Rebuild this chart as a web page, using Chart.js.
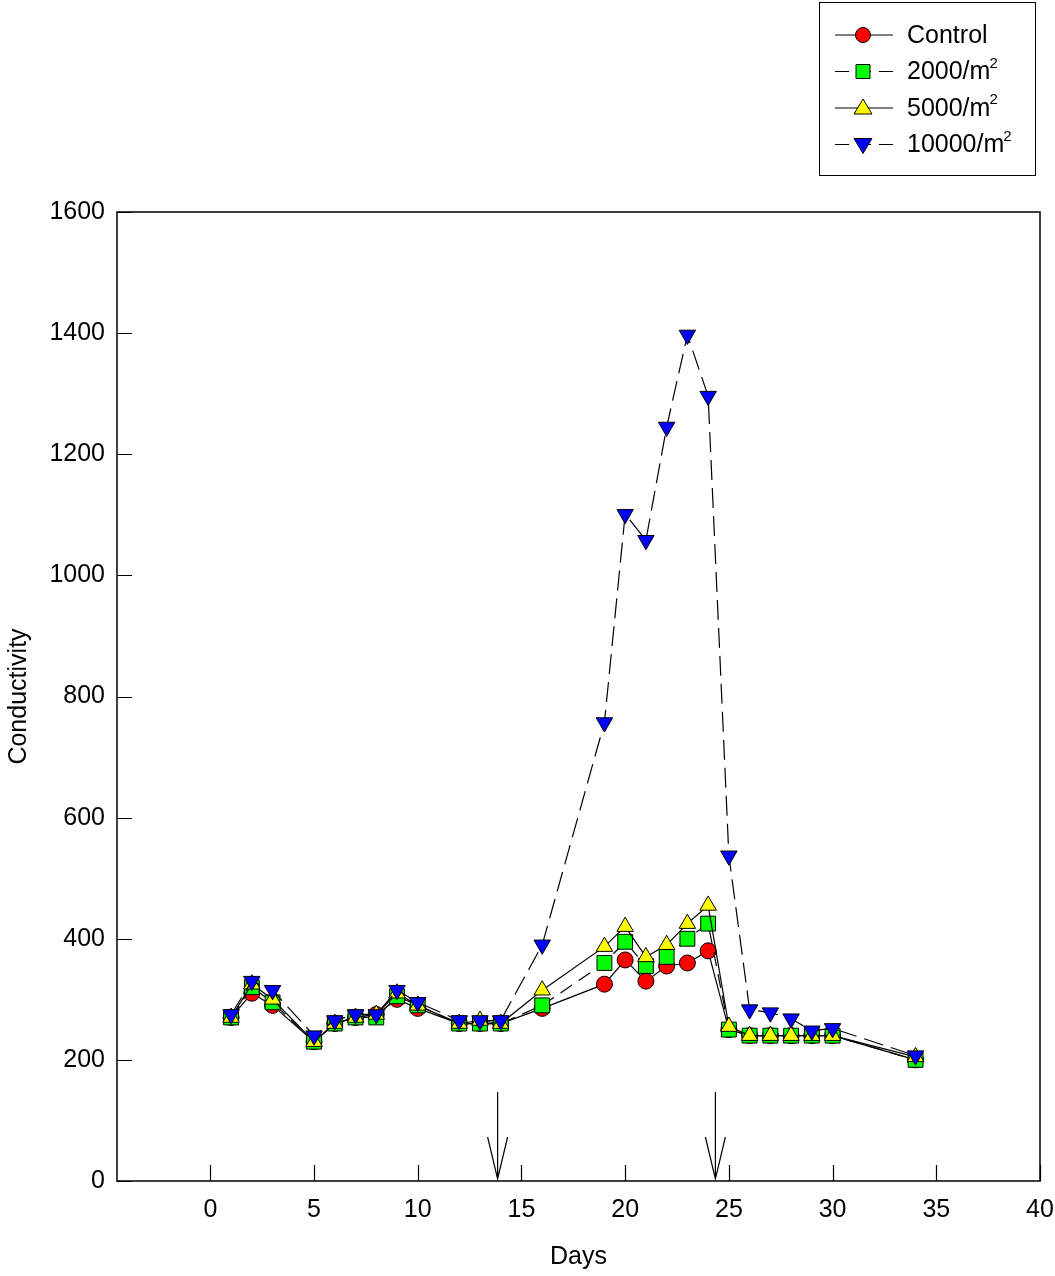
<!DOCTYPE html>
<html>
<head>
<meta charset="utf-8">
<script src="https://cdn.jsdelivr.net/npm/chart.js@4/dist/chart.umd.min.js"></script>
<style>
  html, body { margin: 0; padding: 0; background: #fff; overflow: hidden; }
  #wrap { width: 1055px; height: 1276px; position: relative; }
  canvas { display: block; }
</style>
</head>
<body>
<div id="wrap"><canvas id="myChart"></canvas></div>
<script>
const days = [1, 2, 3, 5, 6, 7, 8, 9, 10, 12, 13, 14, 16, 19, 20, 21, 22, 23, 24, 25, 26, 27, 28, 29, 30, 34];
const control = [270, 310, 290, 230, 260, 270, 275, 300, 285, 260, 260, 260, 285, 325, 365, 330, 355, 360, 380, 250, 240, 240, 240, 240, 240, 200];
const d2000 = [270, 320, 295, 230, 260, 270, 270, 305, 290, 260, 260, 260, 290, 360, 395, 355, 370, 400, 425, 250, 240, 240, 240, 240, 240, 200];
const d5000 = [270, 325, 300, 230, 260, 270, 275, 310, 290, 260, 265, 260, 315, 387, 420, 370, 390, 425, 455, 255, 240, 240, 240, 240, 240, 205];
const d10000 = [275, 330, 315, 240, 265, 275, 275, 315, 295, 265, 265, 265, 390, 757, 1101, 1058, 1245, 1397, 1296, 537, 283, 278, 268, 248, 252, 207];
const xTicks = [0, 5, 10, 15, 20, 25, 30, 35, 40];
const yTicks = [0, 200, 400, 600, 800, 1000, 1200, 1400, 1600];
const arrowDays = [13.85, 24.35];
const arrowTop = 147;

const FONT = '"Liberation Sans", Arial, sans-serif';
const ctx = document.getElementById('myChart').getContext('2d');

function toPoints(ys) {
    return days.map((d, i) => ({ x: d, y: ys[i] }));
}

const series = [
    { label: 'Control', sup: '', data: control, color: '#ff0000', style: 'circle', dash: [], rot: 0, r: 8 },
    { label: '2000/m', sup: '2', data: d2000, color: '#00ff00', style: 'rect', dash: [14, 8], rot: 0, r: 10.5 },
    { label: '5000/m', sup: '2', data: d5000, color: '#ffff00', style: 'triangle', dash: [], rot: 0, r: 9.5 },
    { label: '10000/m', sup: '2', data: d10000, color: '#0000ff', style: 'triangle', dash: [20, 8], rot: 180, r: 9.5 }
];

// frame, inside ticks, arrows, legend box
const decor = {
    id: 'decor',
    beforeDatasetsDraw(chart) {
        const { ctx, chartArea: a, scales: { x, y } } = chart;
        ctx.save();
        ctx.strokeStyle = '#000';
        ctx.lineWidth = 1.5;
        ctx.strokeRect(a.left, a.top, a.right - a.left, a.bottom - a.top);
        ctx.beginPath();
        xTicks.forEach(v => {
            const px = Math.round(x.getPixelForValue(v)) + 0.5;
            ctx.moveTo(px, a.bottom);
            ctx.lineTo(px, a.bottom - 16);
        });
        yTicks.forEach(v => {
            const py = Math.round(y.getPixelForValue(v)) + 0.5;
            ctx.moveTo(a.left, py);
            ctx.lineTo(a.left + 15, py);
        });
        ctx.lineWidth = 1.2;
        ctx.stroke();
        // arrows
        arrowDays.forEach(d => {
            const px = x.getPixelForValue(d);
            const top = y.getPixelForValue(arrowTop);
            const bot = y.getPixelForValue(0) - 2;
            ctx.beginPath();
            ctx.moveTo(px, top);
            ctx.lineTo(px, bot);
            ctx.moveTo(px - 10, bot - 42);
            ctx.lineTo(px, bot);
            ctx.lineTo(px + 10, bot - 42);
            ctx.stroke();
        });
        ctx.restore();
    },
    afterDraw(chart) {
        const { ctx } = chart;
        ctx.save();
        ctx.strokeStyle = '#000';
        ctx.lineWidth = 1;
        ctx.strokeRect(819.5, 2.5, 216, 173);
        series.forEach((s, i) => {
            const cy = 35 + i * 36.5;
            ctx.strokeStyle = '#000';
            ctx.lineWidth = 1;
            ctx.setLineDash(s.dash.length ? [14, 8] : []);
            ctx.beginPath();
            ctx.moveTo(835, cy);
            ctx.lineTo(893, cy);
            ctx.stroke();
            ctx.setLineDash([]);
            ctx.fillStyle = s.color;
            ctx.beginPath();
            if (s.style === 'circle') {
                ctx.arc(863, cy, 7.5, 0, Math.PI * 2);
            } else if (s.style === 'rect') {
                ctx.rect(856, cy - 7, 14, 14);
            } else if (s.rot === 0) {
                ctx.moveTo(863, cy - 9); ctx.lineTo(872, cy + 6); ctx.lineTo(854, cy + 6); ctx.closePath();
            } else {
                ctx.moveTo(863, cy + 9); ctx.lineTo(872, cy - 6); ctx.lineTo(854, cy - 6); ctx.closePath();
            }
            ctx.fill();
            ctx.stroke();
            ctx.fillStyle = '#000';
            ctx.font = '25px ' + FONT;
            ctx.textBaseline = 'middle';
            ctx.textAlign = 'left';
            ctx.fillText(s.label, 907, cy + 1);
            if (s.sup) {
                const w = ctx.measureText(s.label).width;
                ctx.font = '15px ' + FONT;
                ctx.fillText(s.sup, 907 + w - 1, cy - 8);
            }
        });
        ctx.restore();
    }
};

new Chart(ctx, {
    type: 'scatter',
    data: {
        datasets: series.map((s, i) => ({
            label: s.label + s.sup,
            data: toPoints(s.data),
            order: series.length - i,
            showLine: true,
            borderColor: '#000',
            borderWidth: 1.2,
            borderDash: s.dash,
            pointStyle: s.style,
            rotation: s.rot,
            pointRadius: s.r,
            pointBackgroundColor: s.color,
            pointBorderColor: '#000',
            pointBorderWidth: 1,
            tension: 0
        }))
    },
    options: {
        responsive: true,
        maintainAspectRatio: false,
        animation: false,
        layout: { padding: { left: 0, right: 15, top: 212, bottom: 0 } },
        plugins: {
            legend: { display: false },
            tooltip: { enabled: false }
        },
        scales: {
            x: {
                type: 'linear',
                min: -4.5,
                max: 40,
                afterBuildTicks: s => { s.ticks = xTicks.map(v => ({ value: v })); },
                afterFit: s => { s.height = 95; s.paddingLeft = 0; s.paddingRight = 0; },
                grid: { display: false, drawTicks: false },
                border: { display: false },
                ticks: { color: '#000', font: { family: FONT, size: 25 }, padding: 14, maxRotation: 0, callback: v => String(v) },
                title: { display: true, text: 'Days', color: '#000', font: { family: FONT, size: 25 }, padding: { top: 14 } }
            },
            y: {
                type: 'linear',
                min: 0,
                max: 1600,
                afterBuildTicks: s => { s.ticks = yTicks.map(v => ({ value: v })); },
                afterFit: s => { s.width = 117; s.paddingTop = 0; s.paddingBottom = 0; },
                grid: { display: false, drawTicks: false },
                border: { display: false },
                ticks: { color: '#000', font: { family: FONT, size: 25 }, padding: 12, callback: v => String(v) },
                title: { display: true, text: 'Conductivity', color: '#000', font: { family: FONT, size: 25 }, padding: { bottom: 2 } }
            }
        }
    },
    plugins: [decor]
});
</script>
</body>
</html>
